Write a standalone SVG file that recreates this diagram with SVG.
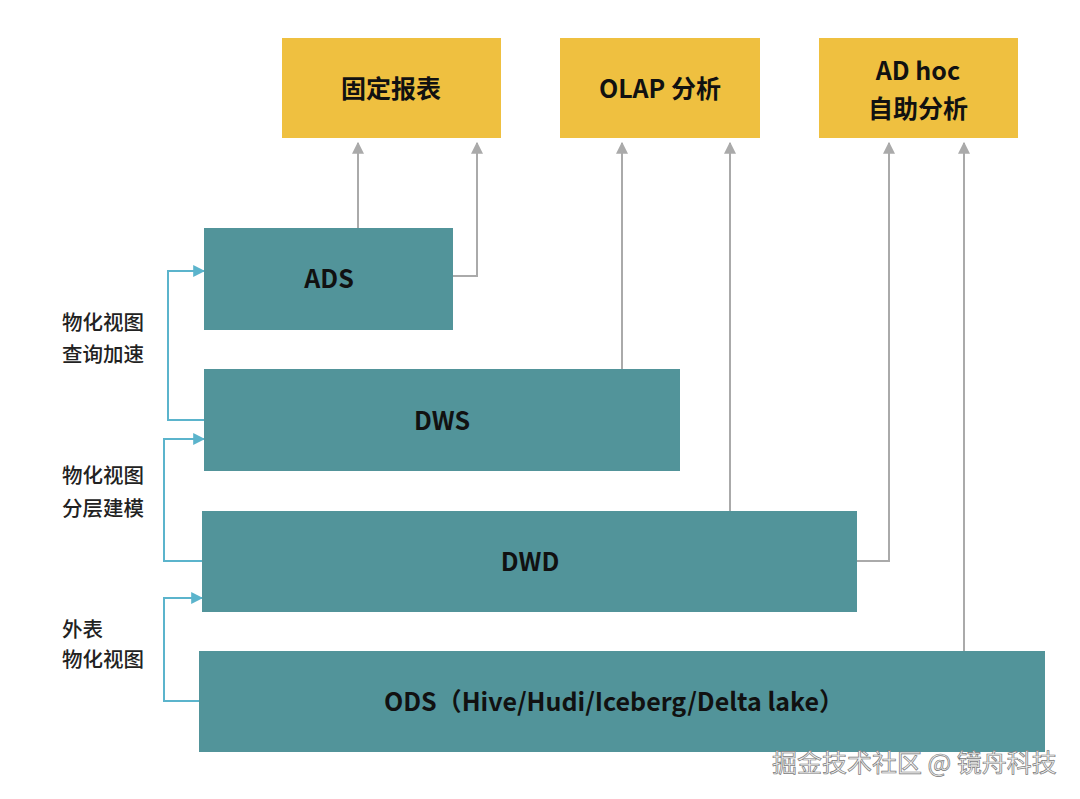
<svg xmlns="http://www.w3.org/2000/svg" width="1080" height="799" viewBox="0 0 1080 799">
<style>
.y{fill:#EFC040}
.t{fill:#52949A}
.lb{font-family:"Noto Sans CJK SC","Noto Sans",sans-serif;font-weight:700;fill:#111;text-anchor:middle;dominant-baseline:central}
.side{font-family:"Noto Sans CJK SC","Noto Sans",sans-serif;font-weight:500;font-size:20.5px;fill:#222}
.g{fill:none;stroke:#AAAAAA;stroke-width:2}
.b{fill:none;stroke:#5BB4CC;stroke-width:2}
.wm{font-family:"Noto Sans CJK SC",sans-serif;font-size:25px;fill:#F2F2F2;stroke:#7A7A7A;stroke-width:0.7}
</style>
<defs>
<marker id="ag" viewBox="0 0 10 10" refX="9" refY="5" markerWidth="6" markerHeight="6" orient="auto" markerUnits="strokeWidth">
<path d="M0,0 L10,5 L0,10 z" fill="#AAAAAA"/>
</marker>
<marker id="ab" viewBox="0 0 10 10" refX="9" refY="5" markerWidth="6" markerHeight="6" orient="auto" markerUnits="strokeWidth">
<path d="M0,0 L10,5 L0,10 z" fill="#5BB4CC"/>
</marker>
</defs>
<rect width="1080" height="799" fill="#FFFFFF"/>

<g id="connectors">
<path class="g" d="M358,228 V143" marker-end="url(#ag)"/>
<path class="g" d="M453,276 H477 V143" marker-end="url(#ag)"/>
<path class="g" d="M622,369 V143" marker-end="url(#ag)"/>
<path class="g" d="M730,511 V143" marker-end="url(#ag)"/>
<path class="g" d="M857,561 H889 V143" marker-end="url(#ag)"/>
<path class="g" d="M964,651 V143" marker-end="url(#ag)"/>
<path class="b" d="M204,420 H168 V271 H204" marker-end="url(#ab)"/>
<path class="b" d="M202,561 H164 V439 H204" marker-end="url(#ab)"/>
<path class="b" d="M199,701 H164 V598 H202" marker-end="url(#ab)"/>
</g>

<g id="report">
<rect class="y" x="282" y="38" width="219" height="100"/>
<text class="lb" x="391" y="87" font-size="25">固定报表</text>
</g>
<g id="olap">
<rect class="y" x="560" y="38" width="200" height="100"/>
<text class="lb" x="660" y="87" font-size="25">OLAP 分析</text>
</g>
<g id="adhoc">
<rect class="y" x="819" y="38" width="199" height="100"/>
<text class="lb" x="918" y="69" font-size="25">AD hoc</text>
<text class="lb" x="918" y="107" font-size="25">自助分析</text>
</g>

<g id="ads">
<rect class="t" x="204" y="228" width="249" height="102"/>
<text class="lb" x="329" y="277" font-size="25">ADS</text>
</g>
<g id="dws">
<rect class="t" x="204" y="369" width="476" height="102"/>
<text class="lb" x="442" y="419" font-size="25">DWS</text>
</g>
<g id="dwd">
<rect class="t" x="202" y="511" width="655" height="101"/>
<text class="lb" x="530" y="560" font-size="25">DWD</text>
</g>
<g id="ods">
<rect class="t" x="199" y="651" width="846" height="101"/>
<text class="lb" x="614" y="700" font-size="25">ODS（Hive/Hudi/Iceberg/Delta lake）</text>
</g>

<g id="labels">
<text class="side" x="62" y="330">物化视图</text>
<text class="side" x="62" y="362">查询加速</text>
<text class="side" x="62" y="483">物化视图</text>
<text class="side" x="62" y="516">分层建模</text>
<text class="side" x="62" y="637">外表</text>
<text class="side" x="62" y="667">物化视图</text>
</g>

<text class="wm" x="772" y="772">掘金技术社区 @ 镜舟科技</text>
</svg>
